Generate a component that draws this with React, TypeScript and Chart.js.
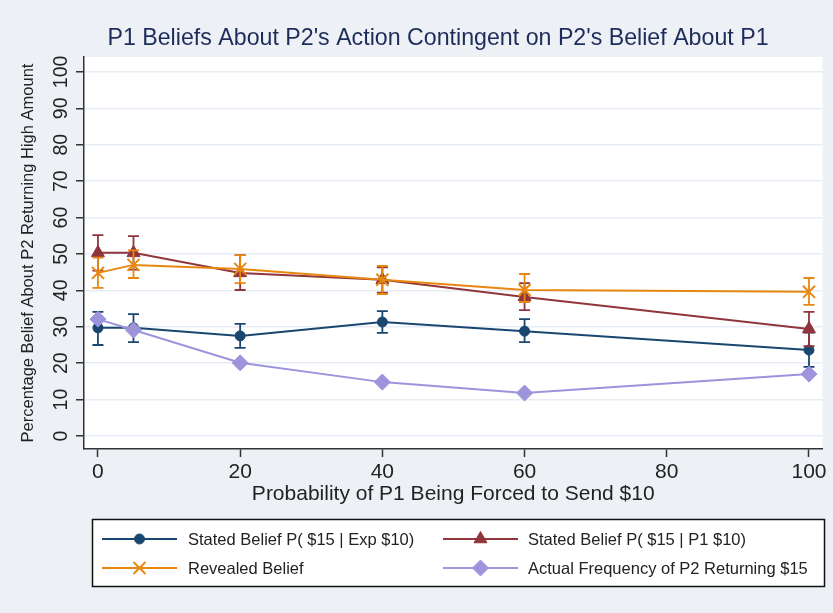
import React, { useEffect, useRef } from 'react';
import { Chart, registerables } from 'chart.js';
import { drawPoint } from 'chart.js/helpers';

Chart.register(...registerables);

// ---------- data ----------
const xValues = [0, 5, 20, 40, 60, 100];
const xTicks = [0, 20, 40, 60, 80, 100];
const yTicks = [0, 10, 20, 30, 40, 50, 60, 70, 80, 90, 100];

const statedExp = [29.7, 29.7, 27.5, 31.3, 28.8, 23.6];
const statedExpLow = [25.0, 25.8, 24.2, 28.3, 25.8, 19.0];
const statedExpHigh = [34.1, 33.5, 30.8, 34.3, 32.1, 28.4];

const statedP1 = [50.3, 50.3, 44.8, 42.9, 38.2, 29.4];
const statedP1Low = [45.4, 45.7, 40.1, 39.4, 34.6, 24.7];
const statedP1High = [55.2, 54.9, 49.7, 46.3, 42.0, 34.1];

const revealed = [44.8, 47.0, 45.9, 42.9, 40.1, 39.6];
const revealedLow = [40.7, 43.4, 42.0, 39.0, 36.8, 36.0];
const revealedHigh = [49.0, 51.0, 49.7, 46.7, 44.5, 43.4];

const actualFreq = [32.1, 29.1, 20.1, 14.8, 11.8, 17.0];

const titleText = "P1 Beliefs About P2's Action Contingent on P2's Belief About P1";
const xTitle = 'Probability of P1 Being Forced to Send $10';
const yTitle = 'Percentage Belief About P2 Returning High Amount';
const seriesLabels = [
  'Stated Belief P( $15 | Exp $10)',
  'Stated Belief P( $15 | P1 $10)',
  'Revealed Belief',
  'Actual Frequency of P2 Returning $15',
];

// ---------- styles ----------
const FONT = '"Liberation Sans", Arial, Helvetica, sans-serif';
const NAVY = '#1a476f';
const MAROON = '#90353b';
const ORANGE = '#e8870f';
const LAVENDER = '#9d94dc';
const BG = '#edf1f6';
const GRID = '#e7edf5';
const AXIS = '#333333';
const TEXT = '#222222';

const styles = [
  { color: NAVY, pointStyle: 'circle', radius: 5, borderWidth: 1 },
  { color: MAROON, pointStyle: 'triangle', radius: 7.5, borderWidth: 1 },
  { color: ORANGE, pointStyle: 'crossRot', radius: 8.5, borderWidth: 2 },
  { color: LAVENDER, pointStyle: 'rectRot', radius: 8, borderWidth: 1 },
];

const backgroundPlugin = {
  id: 'bgPlugin',
  beforeDraw(chart: any) {
    const { ctx, chartArea } = chart;
    ctx.save();
    ctx.fillStyle = BG;
    ctx.fillRect(0, 0, chart.width, chart.height);
    ctx.fillStyle = '#ffffff';
    ctx.fillRect(chartArea.left, chartArea.top, chartArea.right - chartArea.left, chartArea.bottom - chartArea.top);
    ctx.restore();
  },
};

const errorBarPlugin = {
  id: 'errorBars',
  beforeDatasetDraw(chart: any, args: any) {
    const ds = chart.data.datasets[args.index];
    if (!ds.errorLow || !ds.errorHigh) return;
    const { ctx } = chart;
    const xs = chart.scales.x;
    const ys = chart.scales.y;
    const cap = 5.5;
    ctx.save();
    ctx.strokeStyle = ds.borderColor;
    ctx.lineWidth = 1.8;
    ds.data.forEach((p: any, i: number) => {
      const x = xs.getPixelForValue(p.x);
      const yl = ys.getPixelForValue(ds.errorLow[i]);
      const yh = ys.getPixelForValue(ds.errorHigh[i]);
      ctx.beginPath();
      ctx.moveTo(x, yl);
      ctx.lineTo(x, yh);
      ctx.moveTo(x - cap, yl);
      ctx.lineTo(x + cap, yl);
      ctx.moveTo(x - cap, yh);
      ctx.lineTo(x + cap, yh);
      ctx.stroke();
    });
    ctx.restore();
  },
};

const titlePlugin = {
  id: 'mainTitle',
  afterDraw(chart: any) {
    const { ctx } = chart;
    ctx.save();
    ctx.font = `23.2px ${FONT}`;
    ctx.fillStyle = '#1d2c5a';
    ctx.textAlign = 'center';
    ctx.textBaseline = 'middle';
    ctx.fillText(titleText, 438, 39);
    ctx.restore();
  },
};

const legendPlugin = {
  id: 'boxLegend',
  afterDraw(chart: any) {
    const { ctx } = chart;
    const box = { left: 92, top: 519, right: 824, bottom: 586 };
    const rows = [539, 568];
    const cols = [{ line0: 102, line1: 177, text: 188 }, { line0: 443, line1: 518, text: 528 }];
    ctx.save();
    ctx.fillStyle = '#ffffff';
    ctx.fillRect(box.left, box.top, box.right - box.left, box.bottom - box.top);
    ctx.strokeStyle = '#111111';
    ctx.lineWidth = 1.5;
    ctx.strokeRect(box.left + 0.5, box.top + 0.5, box.right - box.left, box.bottom - box.top);
    seriesLabels.forEach((label, i) => {
      const c = cols[i % 2];
      const y = rows[Math.floor(i / 2)];
      const st = styles[i];
      ctx.strokeStyle = st.color;
      ctx.fillStyle = st.color;
      ctx.lineWidth = 2;
      ctx.beginPath();
      ctx.moveTo(c.line0, y);
      ctx.lineTo(c.line1, y);
      ctx.stroke();
      ctx.lineWidth = st.borderWidth;
      drawPoint(ctx, { pointStyle: st.pointStyle, radius: st.radius, borderWidth: st.borderWidth, rotation: 0 }, (c.line0 + c.line1) / 2, y);
      ctx.fillStyle = TEXT;
      ctx.font = `16.5px ${FONT}`;
      ctx.textAlign = 'left';
      ctx.textBaseline = 'middle';
      ctx.fillText(label, c.text, y + 1);
    });
    ctx.restore();
  },
};

function series(values: number[]) {
  return values.map((v, i) => ({ x: xValues[i], y: v }));
}

export default function App() {
  const ref = useRef<HTMLCanvasElement | null>(null);

  useEffect(() => {
    document.body.style.margin = '0';
    if (!ref.current) return;
    const mk = (i: number, values: number[], order: number, low?: number[], high?: number[]) => ({
      label: seriesLabels[i],
      data: series(values),
      borderColor: styles[i].color,
      backgroundColor: styles[i].color,
      pointBackgroundColor: styles[i].color,
      pointBorderColor: styles[i].color,
      pointStyle: styles[i].pointStyle,
      pointRadius: styles[i].radius,
      pointBorderWidth: styles[i].borderWidth,
      borderWidth: 2,
      tension: 0,
      fill: false,
      order,
      errorLow: low,
      errorHigh: high,
    });
    const chart = new Chart(ref.current, {
      type: 'line',
      data: {
        datasets: [
          mk(0, statedExp, 4, statedExpLow, statedExpHigh),
          mk(1, statedP1, 3, statedP1Low, statedP1High),
          mk(2, revealed, 2, revealedLow, revealedHigh),
          mk(3, actualFreq, 1),
        ] as any,
      },
      options: {
        responsive: false,
        animation: false,
        layout: { padding: { left: 0, right: 8, top: 57, bottom: 100 } },
        plugins: {
          legend: { display: false },
          title: { display: false },
          tooltip: { enabled: false },
        },
        scales: {
          x: {
            type: 'linear',
            min: -1.96,
            max: 101.9,
            afterBuildTicks: (s: any) => {
              s.ticks = xTicks.map((v) => ({ value: v }));
            },
            afterFit: (s: any) => {
              s.height = 64;
            },
            grid: { drawOnChartArea: false, drawTicks: true, tickLength: 8, tickColor: AXIS, tickWidth: 1.5 },
            border: { display: true, color: AXIS, width: 1.5 },
            ticks: { font: { family: FONT, size: 21 }, color: TEXT, padding: 3, maxRotation: 0, autoSkip: false },
            title: { display: true, text: xTitle, font: { family: FONT, size: 21 }, color: TEXT, padding: { top: 0, bottom: 6 } },
          },
          y: {
            type: 'linear',
            min: -3.57,
            max: 104.1,
            afterBuildTicks: (s: any) => {
              s.ticks = yTicks.map((v) => ({ value: v }));
            },
            afterFit: (s: any) => {
              s.width = 84;
            },
            grid: { color: GRID, lineWidth: 1.5, drawTicks: true, tickLength: 8, tickColor: AXIS, tickWidth: 1.5 },
            border: { display: true, color: AXIS, width: 1.5 },
            ticks: {
              font: { family: FONT, size: 19.5 },
              color: TEXT,
              padding: -2,
              minRotation: 90,
              maxRotation: 90,
              crossAlign: 'center',
              autoSkip: false,
            },
            title: { display: true, text: yTitle, font: { family: FONT, size: 16.5 }, color: TEXT, padding: { top: 19, bottom: 0 } },
          },
        },
      } as any,
      plugins: [backgroundPlugin, errorBarPlugin, titlePlugin, legendPlugin],
    });
    return () => chart.destroy();
  }, []);

  return (
    <div style={{ width: 833, height: 613, background: BG }}>
      <canvas ref={ref} width={833} height={613} style={{ display: 'block' }} />
    </div>
  );
}
